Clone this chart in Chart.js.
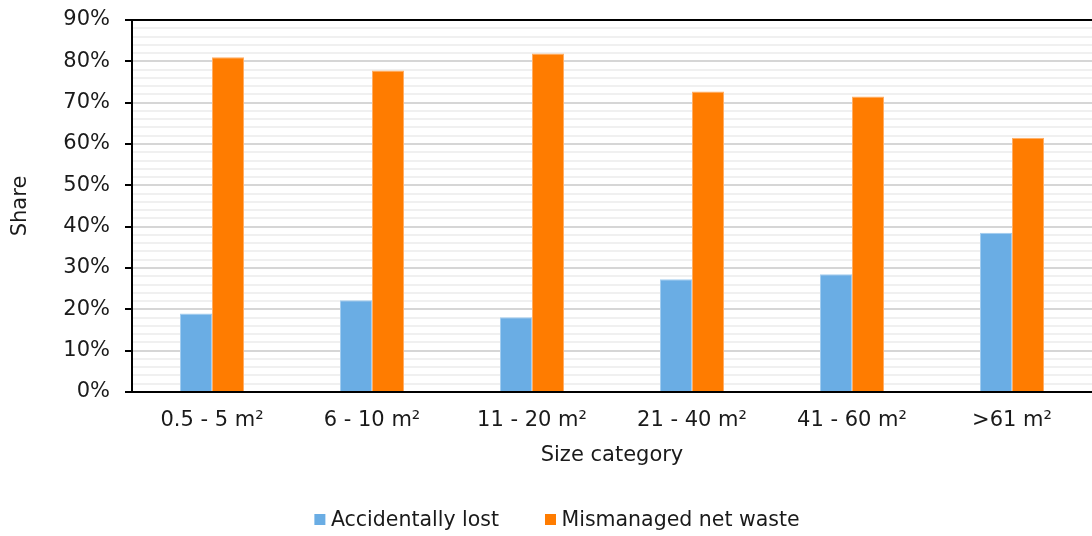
<!DOCTYPE html>
<html>
<head>
<meta charset="utf-8">
<script src="https://cdn.jsdelivr.net/npm/chart.js@4/dist/chart.umd.min.js"></script>
<style>
  html, body { margin: 0; padding: 0; background: #ffffff; }
  #wrap { width: 1092px; height: 536px; position: relative; }
</style>
</head>
<body>
<div id="wrap"><canvas id="chart" width="1092" height="536"></canvas></div>
<script>
// Size categories on the x axis
const categories = ['0.5 - 5 m²', '6 - 10 m²', '11 - 20 m²', '21 - 40 m²', '41 - 60 m²', '>61 m²'];

// Share (%) per size category
const accidentallyLost = [19.0, 22.2, 18.1, 27.3, 28.5, 38.5];
const mismanagedNetWaste = [81.0, 77.8, 81.9, 72.7, 71.5, 61.5];

// Series names
const seriesNames = ['Accidentally lost', 'Mismanaged net waste'];

// Y axis range and labelled step (in %)
const yMin = 0;
const yMax = 90;
const yMajorStep = 10;
const yMinorStep = 2;

const FONT = 'DejaVu Sans, Verdana, sans-serif';
const TEXT = '#1a1a1a';

// Legend drawn as one centred row under the axis title
const bottomLegend = {
  id: 'bottomLegend',
  afterDraw(chart, args, opts) {
    const ctx = chart.ctx;
    const sets = chart.data.datasets;
    ctx.save();
    ctx.font = opts.fontSize + 'px ' + FONT;
    ctx.textBaseline = 'middle';
    ctx.textAlign = 'left';
    const widths = sets.map(ds => opts.box + opts.gap + ctx.measureText(ds.label).width);
    const total = widths.reduce((a, b) => a + b, 0) + opts.spacing * (sets.length - 1);
    let x = opts.centerX - total / 2;
    sets.forEach((ds, i) => {
      ctx.fillStyle = ds.backgroundColor;
      ctx.fillRect(x, opts.y - opts.box / 2, opts.box, opts.box);
      ctx.fillStyle = TEXT;
      ctx.fillText(ds.label, x + opts.box + opts.gap, opts.y + 1);
      x += widths[i] + opts.spacing;
    });
    ctx.restore();
  }
};

const isMajor = v => Math.abs(v % yMajorStep) < 1e-9;

new Chart(document.getElementById('chart'), {
  type: 'bar',
  data: {
    labels: categories,
    datasets: [
      {
        label: seriesNames[0],
        data: accidentallyLost,
        backgroundColor: '#6aade4',
        borderColor: '#a3cdf0',
        borderWidth: 1
      },
      {
        label: seriesNames[1],
        data: mismanagedNetWaste,
        backgroundColor: '#ff7c00',
        borderColor: '#ffae66',
        borderWidth: 1
      }
    ]
  },
  options: {
    responsive: false,
    animation: false,
    devicePixelRatio: 1,
    layout: { autoPadding: false, padding: { top: 20, right: 0, bottom: 0, left: 0 } },
    datasets: {
      bar: { categoryPercentage: 0.4, barPercentage: 1.0 }
    },
    plugins: {
      legend: { display: false },
      tooltip: { enabled: false },
      bottomLegend: { fontSize: 20.5, box: 11, gap: 5.5, spacing: 46, centerX: 557, y: 519.5 }
    },
    scales: {
      x: {
        grid: { display: false, drawTicks: false },
        border: { display: true, color: '#000000', width: 2 },
        ticks: { color: TEXT, font: { family: FONT, size: 21 }, padding: 16, maxRotation: 0 },
        title: {
          display: true,
          text: 'Size category',
          color: TEXT,
          font: { family: FONT, size: 21 },
          padding: { top: 0, bottom: 68 }
        },
        afterFit(scale) {
          scale.height = 144;
          scale.paddingLeft = 0;
          scale.paddingRight = 0;
        }
      },
      y: {
        min: yMin,
        max: yMax,
        grid: {
          color: ctx => {
            const v = ctx.tick ? ctx.tick.value : 0;
            if (v === yMax || v === yMin) return '#000000';
            return isMajor(v) ? '#d6d6d6' : '#f0f0f0';
          },
          lineWidth: 2,
          drawTicks: true,
          tickLength: 7,
          tickWidth: 2,
          tickColor: ctx => (ctx.tick && isMajor(ctx.tick.value)) ? '#000000' : 'rgba(0,0,0,0)'
        },
        border: { display: true, color: '#000000', width: 2 },
        ticks: {
          stepSize: yMinorStep,
          autoSkip: false,
          color: TEXT,
          font: { family: FONT, size: 21 },
          padding: 15,
          callback: v => isMajor(v) ? v + '%' : ''
        },
        title: {
          display: true,
          text: 'Share',
          color: TEXT,
          font: { family: FONT, size: 21 },
          padding: { top: 8, bottom: 0 }
        },
        afterFit(scale) {
          scale.width = 132;
          scale.paddingTop = 0;
          scale.paddingBottom = 0;
        }
      }
    }
  },
  plugins: [bottomLegend]
});
</script>
</body>
</html>
